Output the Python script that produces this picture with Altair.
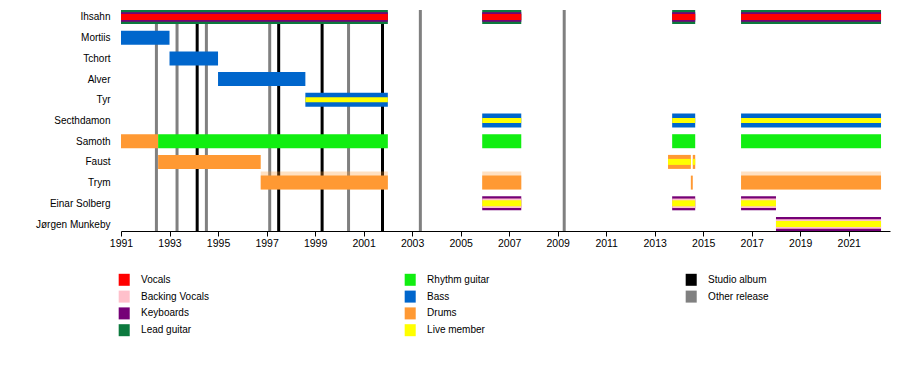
import altair as alt
import pandas as pd

members = ["Ihsahn", "Mortiis", "Tchort", "Alver", "Tyr", "Secthdamon",
           "Samoth", "Faust", "Trym", "Einar Solberg", "Jørgen Munkeby"]

# legend entries (filled column by column, 4 rows; " " is an empty slot)
legend_order = ["Vocals", "Backing Vocals", "Keyboards", "Lead guitar",
                "Rhythm guitar", "Bass", "Drums", "Live member",
                "Studio album", "Other release", " "]
legend_colors = ["#ff0000", "#ffc0cb", "#750077", "#0c7a3e",
                 "#11ee11", "#0066cc", "#ff9933", "#ffff00",
                 "#000000", "#808080", "#ffffff"]

P1 = (2005.89, 2007.5)
P2 = (2013.72, 2014.67)
P3 = (2016.56, 2022.33)

seg_member = []
seg_role = []
seg_start = []
seg_end = []
seg_layer = []

def add(member, role, layer, periods):
    for s, e in periods:
        seg_member.append(member)
        seg_role.append(role)
        seg_start.append(s)
        seg_end.append(e)
        seg_layer.append(layer)

add("Ihsahn", "Lead guitar", "full", [(1991, 2002), P1, P2, P3])
add("Ihsahn", "Keyboards", "mid", [(1991, 2002), P1, P2, P3])
add("Ihsahn", "Vocals", "inner", [(1991, 2002), P1, P2, P3])
add("Mortiis", "Bass", "full", [(1991, 1993.0)])
add("Tchort", "Bass", "full", [(1993.0, 1995.0)])
add("Alver", "Bass", "full", [(1995.0, 1998.6)])
add("Tyr", "Bass", "full", [(1998.6, 2002)])
add("Tyr", "Live member", "thin", [(1998.6, 2002)])
add("Secthdamon", "Bass", "full", [P1, P2, P3])
add("Secthdamon", "Live member", "thin", [P1, P2, P3])
add("Samoth", "Drums", "full", [(1991, 1992.53)])
add("Samoth", "Rhythm guitar", "full", [(1992.53, 2002), P1, P2, P3])
add("Faust", "Drums", "full", [(1992.53, 1996.76), (2013.55, 2014.49), (2014.57, 2014.67)])
add("Faust", "Live member", "inner", [(2013.55, 2014.49), (2014.57, 2014.67)])
add("Trym", "Drums", "fade", [(1996.76, 2002), P1, P3])
add("Trym", "Drums", "full", [(1996.76, 2002), P1, (2014.49, 2014.57), P3])
add("Einar Solberg", "Keyboards", "full", [P1, P2, (2016.56, 2018.0)])
add("Einar Solberg", "Backing Vocals", "mid", [P1, P2, (2016.56, 2018.0)])
add("Einar Solberg", "Live member", "inner", [P1, P2, (2016.56, 2018.0)])
add("Jørgen Munkeby", "Keyboards", "full", [(2018.0, 2022.33)])
add("Jørgen Munkeby", "Backing Vocals", "mid", [(2018.0, 2022.33)])
add("Jørgen Munkeby", "Live member", "inner", [(2018.0, 2022.33)])

release_year = [1992.46, 1993.31, 1994.14, 1994.52, 1997.13, 1997.50,
                1999.29, 2000.38, 2001.78, 2003.34, 2009.27]
release_type = ["Other release", "Other release", "Studio album", "Other release",
                "Other release", "Studio album", "Studio album", "Other release",
                "Studio album", "Other release", "Other release"]

segs = pd.DataFrame({"member": seg_member, "role": seg_role,
                     "start": seg_start, "end": seg_end, "layer": seg_layer})
rels = pd.DataFrame({"year": release_year, "role": release_type})

FONT = "Liberation Sans"
x_dom = [1991, 2022.7]
year_ticks = list(range(1991, 2023))

color = alt.Color(
    "role:N",
    scale=alt.Scale(domain=legend_order, range=legend_colors),
    legend=alt.Legend(
        orient="none", legendX=-2.8, legendY=263.8, columns=3,
        columnPadding=195, rowPadding=4.8, gridAlign="each",
        symbolType="M-0.92,-1H0.92V1H-0.92Z", symbolSize=144,
        symbolStrokeWidth=0, symbolOpacity=1,
        labelFont=FONT, labelFontSize=10, labelColor="black",
        labelOffset=10.9, title=None, padding=0,
    ),
)

xaxis = alt.Axis(values=year_ticks, format="d",
                 labelExpr="datum.value % 2 == 1 ? datum.label : ''",
                 title=None, grid=False, tickSize=5, tickColor="black",
                 domainColor="black", labelColor="black", labelFont=FONT,
                 labelFontSize=10.5, labelPadding=2, labelFlush=False)

xs = alt.Scale(domain=x_dom, nice=False, zero=False)

lines = alt.Chart(rels).transform_calculate(
    x1="datum.year - 0.062", x2="datum.year + 0.062"
).mark_rect().encode(
    x=alt.X("x1:Q", scale=xs, axis=xaxis),
    x2="x2:Q",
    color=color,
)

ys = alt.Scale(type="point", padding=0.338)
yaxis = alt.Axis(title=None, domain=False, ticks=False, labelPadding=11,
                 labelFont=FONT, labelFontSize=10, labelColor="black")

def stripes(layer, h, **kw):
    return alt.Chart(segs).transform_filter(
        alt.datum.layer == layer
    ).mark_bar(height=h, cornerRadius=0, **kw).encode(
        x=alt.X("start:Q", scale=xs),
        x2="end:Q",
        y=alt.Y("member:N", sort=members, scale=ys, axis=yaxis),
        color=color,
    )

chart = alt.layer(
    lines,
    stripes("fade", 18, yOffset=-2, opacity=0.3),
    stripes("full", 14),
    stripes("mid", 9.5),
    stripes("inner", 6),
    stripes("thin", 5),
).properties(
    width=769, height=221,
    autosize=alt.AutoSizeParams(type="none"),
    padding={"left": 113, "top": 2, "right": 2, "bottom": 140},
    background="white",
).configure_view(stroke=None)

chart.save("out.html", embed_options={"renderer": "svg", "actions": False})
